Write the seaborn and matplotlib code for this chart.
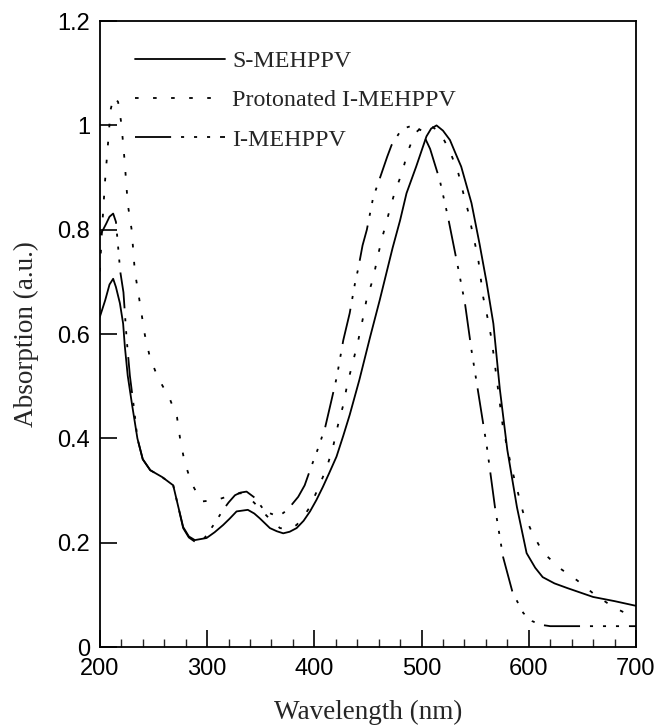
# Absorption spectra of S-MEHPPV, protonated I-MEHPPV and I-MEHPPV
import numpy as np
import pandas as pd
import matplotlib
matplotlib.use("Agg")
import matplotlib.pyplot as plt
import seaborn as sns

# ------------------------------------------------------------
# Data (wavelength in nm, absorption a.u.)
# ------------------------------------------------------------
wl_s = [200, 205, 209, 212.4, 215, 218.7, 221.7, 223.3, 226, 230, 235, 240, 247, 258,
        268.4, 273, 277.7, 283, 288.6, 299.5, 307, 315, 321, 327.5, 338, 344, 349,
        358.6, 365, 371, 377, 383.5, 390, 396, 402, 408, 414, 420.7, 427, 433, 442,
        452, 461, 473, 480, 486, 495, 504.6, 509, 514, 520, 526.5, 532, 537, 546.6,
        554, 560.6, 567, 573, 580, 589, 598, 606, 613, 624, 636, 660, 680, 700]
abs_s = [0.633, 0.665, 0.695, 0.706, 0.69, 0.659, 0.62, 0.576, 0.52, 0.465, 0.40,
         0.36, 0.339, 0.326, 0.31, 0.27, 0.23, 0.212, 0.205, 0.209, 0.22, 0.234, 0.246,
         0.26, 0.263, 0.256, 0.247, 0.228, 0.222, 0.218, 0.221, 0.228, 0.242, 0.26,
         0.282, 0.307, 0.334, 0.365, 0.405, 0.445, 0.512, 0.594, 0.665, 0.765, 0.818,
         0.87, 0.921, 0.979, 0.994, 1.0, 0.99, 0.972, 0.945, 0.921, 0.851, 0.774, 0.70,
         0.62, 0.495, 0.378, 0.268, 0.18, 0.152, 0.134, 0.122, 0.113, 0.096, 0.088, 0.079]

wl_p = [200, 202, 204.7, 207.7, 210, 213, 217, 220, 221.7, 223.3, 224.8, 226.4,
        229.5, 231, 232.6, 235.7, 238.8, 242, 246.6, 254, 265, 272, 275, 279, 285.5,
        294.8, 309, 318, 326, 333, 340, 347, 354, 361, 368, 376, 383.5, 390, 396,
        403.7, 411.5, 417.5, 422, 427, 431, 436, 441, 445, 449, 455, 459, 464, 469,
        475, 482, 487, 494, 502, 510, 517, 526.5, 534, 539, 543.6, 548, 552.6, 557.5,
        562, 565.5, 571, 576, 584, 594.6, 603, 613, 629, 645, 660, 678.5, 699]
abs_p = [0.72, 0.80, 0.89, 0.968, 1.03, 1.055, 1.045, 1.004, 0.965, 0.927, 0.882,
         0.844, 0.802, 0.764, 0.72, 0.681, 0.64, 0.598, 0.556, 0.517, 0.477, 0.44,
         0.397, 0.355, 0.314, 0.279, 0.282, 0.288, 0.294, 0.295, 0.285, 0.27, 0.255,
         0.24, 0.228, 0.226, 0.234, 0.25, 0.269, 0.305, 0.343, 0.384, 0.425, 0.464,
         0.506, 0.546, 0.588, 0.627, 0.669, 0.707, 0.748, 0.79, 0.828, 0.872, 0.91,
         0.949, 0.985, 1.0, 0.997, 0.988, 0.95, 0.911, 0.87, 0.834, 0.79, 0.748, 0.671,
         0.627, 0.588, 0.5, 0.42, 0.343, 0.259, 0.22, 0.182, 0.151, 0.128, 0.103,
         0.077, 0.056]

wl_i = [200, 203, 206, 209, 212.4, 215, 219, 222, 225, 228, 232, 235, 240, 247, 258,
        268.4, 273, 277.7, 283, 288.6, 298, 307, 315, 320, 326, 331, 336.8, 344.6, 354,
        363, 369, 375, 385, 391, 397, 403, 410, 416, 421, 427, 433, 438, 441, 445, 449,
        455, 459, 463, 468, 472, 480, 486, 492, 500, 508, 517, 524.6, 534, 540.5, 546.6,
        552.5, 561, 568.5, 576, 585, 595, 603, 610, 620, 650, 700]
abs_i = [0.79, 0.80, 0.812, 0.825, 0.831, 0.815, 0.72, 0.68, 0.59, 0.52, 0.455, 0.40,
         0.36, 0.339, 0.326, 0.31, 0.27, 0.228, 0.21, 0.202, 0.21, 0.237, 0.263, 0.277,
         0.291, 0.296, 0.298, 0.286, 0.26, 0.253, 0.254, 0.263, 0.288, 0.31, 0.345,
         0.378, 0.42, 0.473, 0.518, 0.588, 0.64, 0.698, 0.726, 0.77, 0.80, 0.863, 0.886,
         0.91, 0.94, 0.962, 0.988, 0.996, 1.0, 0.99, 0.955, 0.895, 0.825, 0.728, 0.659,
         0.569, 0.493, 0.383, 0.268, 0.173, 0.104, 0.065, 0.05, 0.043, 0.04, 0.04, 0.04]

labels = ["S-MEHPPV", "Protonated I-MEHPPV", "I-MEHPPV"]
x_ticks = [200, 300, 400, 500, 600, 700]
y_ticks = [0, 0.2, 0.4, 0.6, 0.8, 1, 1.2]
y_tick_labels = ["0", "0.2", "0.4", "0.6", "0.8", "1", "1.2"]

# ------------------------------------------------------------
# Build a long table for seaborn
# ------------------------------------------------------------
df = pd.concat([
    pd.DataFrame({"wl": wl_s, "abs": abs_s, "sample": labels[0]}),
    pd.DataFrame({"wl": wl_p, "abs": abs_p, "sample": labels[1]}),
    pd.DataFrame({"wl": wl_i, "abs": abs_i, "sample": labels[2]}),
], ignore_index=True)

sns.set_style("white")
plt.rcParams["font.family"] = ["Liberation Serif", "DejaVu Serif"]

fig = plt.figure(figsize=(6.57, 7.27), dpi=100)
ax = fig.add_axes([0.152, 0.11, 0.816, 0.861])

line_dashes = {
    labels[0]: "",
    labels[1]: (2, 8),
    labels[2]: (20, 5.5, 1.7, 5.5, 1.7, 5.5, 1.7, 5.5),
}
sns.lineplot(data=df, x="wl", y="abs", hue="sample", style="sample",
             hue_order=labels, style_order=labels,
             palette=["black"] * 3, dashes=line_dashes, sort=False,
             linewidth=1.3, ax=ax)

ax.set_xlim(200, 700)
ax.set_ylim(0, 1.2)
ax.set_xticks(x_ticks)
ax.set_xticks(np.arange(200, 701, 20), minor=True)
ax.set_yticks(y_ticks)
ax.set_yticklabels(y_tick_labels)

for lab in ax.get_xticklabels() + ax.get_yticklabels():
    lab.set_family(["Liberation Sans", "DejaVu Sans"])
    lab.set_fontsize(17)

ax.tick_params(axis="both", which="major", direction="in", length=12, width=1.2,
               colors="black", bottom=True, left=True, top=False, right=False)
ax.tick_params(axis="x", which="major", pad=8)
ax.tick_params(axis="y", which="major", pad=7)
ax.tick_params(axis="x", which="minor", direction="in", length=6, width=1.0,
               bottom=True, top=False)

for sp in ax.spines.values():
    sp.set_color("black")
    sp.set_linewidth(1.3)

ax.set_xlabel("Wavelength (nm)", fontsize=19.5, labelpad=14)
ax.set_ylabel("Absorption (a.u.)", fontsize=19.5, labelpad=13)

leg = ax.legend(loc="upper left", bbox_to_anchor=(0.065, 0.953), frameon=False,
                borderpad=0, borderaxespad=0,
                fontsize=17.3, handlelength=3.75, handletextpad=0.3, labelspacing=0.72)
for h in leg.get_lines():
    h.set_linewidth(1.3)

fig.savefig("out.png", dpi=100)
